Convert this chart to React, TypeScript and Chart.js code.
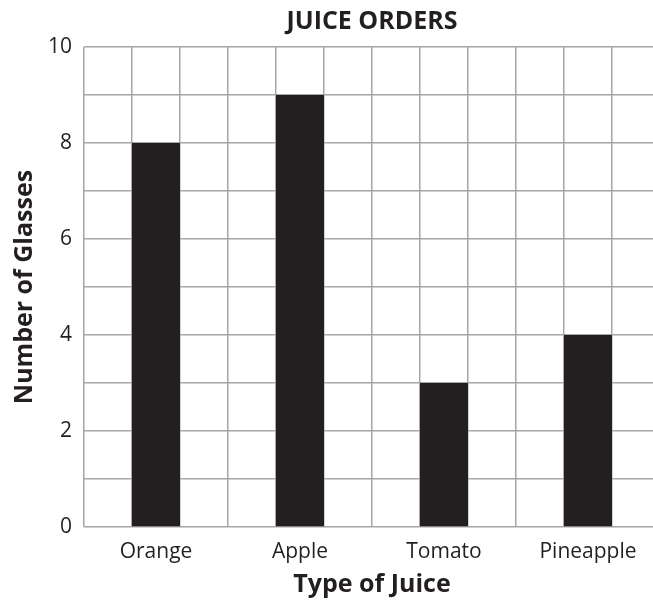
import React, { useEffect, useRef } from "react";
import { Chart, registerables } from "chart.js";

Chart.register(...registerables);

const categories = ["Orange", "Apple", "Tomato", "Pineapple"];
const glasses = [8, 9, 3, 4];
const yMin = 0;
const yMax = 10;
const gridCells = 12;

const FONT = "'Open Sans', 'Noto Sans', sans-serif";
const TEXT = "#231f20";
const GRID = "#a5a6a9";

export default function App() {
  const ref = useRef<HTMLCanvasElement | null>(null);

  useEffect(() => {
    if (!ref.current) return;
    const chart = new Chart(ref.current, {
      type: "bar",
      data: {
        labels: categories,
        datasets: [
          {
            data: glasses,
            backgroundColor: "#231f20",
            borderWidth: 0,
            categoryPercentage: 1,
            barPercentage: 1 / 3,
            xAxisID: "x",
            yAxisID: "y",
          },
        ],
      },
      options: {
        animation: false,
        responsive: false,
        maintainAspectRatio: false,
        layout: { padding: { right: 30, left: 0, top: 0, bottom: 0 } },
        plugins: {
          legend: { display: false },
          tooltip: { enabled: false },
          title: {
            display: true,
            text: "JUICE ORDERS",
            fullSize: false,
            color: TEXT,
            font: { family: FONT, size: 25, weight: "bold" },
            padding: { top: 6.5, bottom: 10.5 },
          },
        },
        scales: {
          x: {
            type: "category",
            position: "bottom",
            grid: { display: false },
            border: { display: false },
            ticks: {
              color: TEXT,
              font: { family: FONT, size: 21 },
              padding: 4,
              maxRotation: 0,
            },
            title: {
              display: true,
              text: "Type of Juice",
              color: TEXT,
              font: { family: FONT, size: 25, weight: "bold" },
              padding: { top: 0, bottom: 2.5 },
            },
            afterFit: (scale: any) => {
              scale.height = 75;
            },
          },
          xg: {
            type: "linear",
            position: "bottom",
            offset: false,
            min: 0,
            max: gridCells,
            ticks: { display: false, stepSize: 1 },
            grid: { color: GRID, lineWidth: 1.5, drawTicks: false, offset: false },
            border: { display: false },
            afterFit: (scale: any) => {
              scale.height = 0;
            },
          },
          y: {
            type: "linear",
            min: yMin,
            max: yMax,
            ticks: {
              stepSize: 1,
              color: TEXT,
              font: { family: FONT, size: 21 },
              padding: 12,
              callback: (v: any) => (Number(v) % 2 === 0 ? String(v) : ""),
            },
            grid: { color: GRID, lineWidth: 1.5, drawTicks: false },
            border: { display: false },
            title: {
              display: true,
              text: "Number of Glasses",
              color: TEXT,
              font: { family: FONT, size: 25, weight: "bold" },
              padding: { top: 10, bottom: 0 },
            },
            afterFit: (scale: any) => {
              scale.width = 84;
            },
          },
        },
      },
    });
    return () => chart.destroy();
  }, []);

  return (
    <div
      style={{
        position: "fixed",
        left: 0,
        top: 0,
        width: 653,
        height: 602,
        overflow: "hidden",
        background: "#fff",
      }}
    >
      <canvas
        ref={ref}
        width={690}
        height={602}
        style={{ display: "block", width: 690, height: 602 }}
      />
    </div>
  );
}
